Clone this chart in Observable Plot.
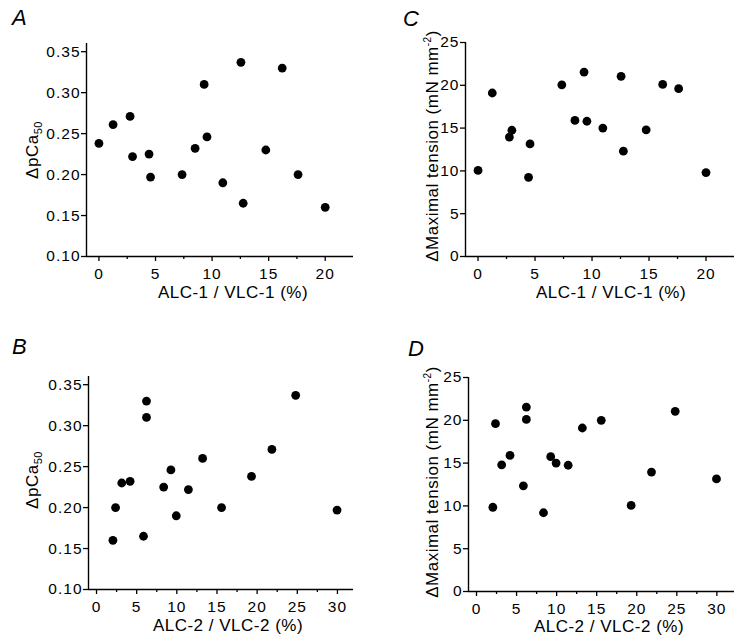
<!DOCTYPE html>
<html><head><meta charset="utf-8">
<script src="https://cdn.jsdelivr.net/npm/d3@7"></script>
<script src="https://cdn.jsdelivr.net/npm/@observablehq/plot@0.6"></script>
<style>
body{margin:0;background:#fff;}
#wrap{position:relative;width:742px;height:641px;overflow:hidden;background:#fff;font-family:"Liberation Sans",Arial,sans-serif;}
#wrap svg{position:absolute;}
</style></head><body><div id="wrap"></div>
<script>
// ---- data ----
const alc1 = [0, 1.25, 2.75, 2.97, 4.43, 4.56, 7.35, 8.5, 9.3, 9.55, 10.95, 12.55, 12.75, 14.75, 16.2, 17.6, 20.0];
const pCaA = [0.238, 0.261, 0.271, 0.222, 0.225, 0.197, 0.200, 0.232, 0.310, 0.246, 0.190, 0.337, 0.165, 0.230, 0.330, 0.200, 0.160];
const tensionC = [10.05, 19.1, 13.95, 14.75, 9.25, 13.15, 20.05, 15.9, 21.55, 15.8, 15.0, 21.05, 12.3, 14.8, 20.1, 19.6, 9.8];
const alc2 = [2.04, 2.37, 3.14, 4.18, 5.85, 6.22, 6.22, 8.36, 9.26, 9.93, 11.44, 13.21, 15.57, 19.3, 21.84, 24.8, 29.95];
const pCaB = [0.160, 0.200, 0.230, 0.232, 0.165, 0.330, 0.310, 0.225, 0.246, 0.190, 0.222, 0.260, 0.200, 0.238, 0.271, 0.337, 0.197];
const tensionD = [9.84, 19.6, 14.8, 15.9, 12.35, 21.55, 20.1, 9.2, 15.75, 15.0, 14.75, 19.1, 20.0, 10.05, 13.95, 21.05, 13.15];

const xTicks1 = [0, 5, 10, 15, 20];
const xMinor1 = [2.5, 7.5, 12.5, 17.5];
const xTicks2 = [0, 5, 10, 15, 20, 25, 30];
const xMinor2 = [2.5, 7.5, 12.5, 17.5, 22.5, 27.5];
const yTicksPCa = [0.10, 0.15, 0.20, 0.25, 0.30, 0.35];
const yTicksTension = [0, 5, 10, 15, 20, 25];

const xLabel1 = "ALC-1 / VLC-1 (%)";
const xLabel2 = "ALC-2 / VLC-2 (%)";
const panelLetters = ["A", "B", "C", "D"];

const wrap = document.getElementById("wrap");
const FONT = "'Liberation Sans', Arial, Helvetica, sans-serif";

function panel(cfg) {
  const data = cfg.x.map((v, i) => ({x: v, y: cfg.y[i]}));
  const svg = Plot.plot({
    width: cfg.width, height: cfg.height,
    marginLeft: cfg.ml, marginRight: cfg.mr, marginTop: cfg.mt, marginBottom: cfg.mb,
    x: {domain: cfg.xDomain},
    y: {domain: cfg.yDomain},
    style: {fontFamily: FONT, fontSize: "15.5px", letterSpacing: "1px", color: "#000", background: "transparent", overflow: "visible"},
    marks: [
      Plot.axisX(cfg.xTicks, {tickSize: 5, tickPadding: 6, label: null, tickFormat: d3.format("d"), strokeWidth: 1.3, fontSize: 15.5}),
      Plot.axisX(cfg.xMinor, {tickSize: 3, tickPadding: 0, label: null, tickFormat: () => "", strokeWidth: 1.3}),
      Plot.axisY(cfg.yTicks, {tickSize: 5, tickPadding: 1, label: null, tickFormat: cfg.yFormat, strokeWidth: 1.3, fontSize: 15.5}),
      Plot.ruleY([cfg.yDomain[0]], {stroke: "#000", strokeWidth: 1.4}),
      Plot.ruleX([cfg.xDomain[0]], {stroke: "#000", strokeWidth: 1.4}),
      Plot.dot(data, {x: "x", y: "y", r: 4.4, fill: "#000", stroke: "none"})
    ]
  });
  svg.style.left = cfg.left + "px";
  svg.style.top = cfg.top + "px";
  wrap.appendChild(svg);
}

// A
panel({x: alc1, y: pCaA, left: 0, top: 0, width: 371, height: 310, ml: 86, mr: 18, mt: 43, mb: 54,
  xDomain: [-1.1, 22.5], yDomain: [0.10, 0.36], xTicks: xTicks1, xMinor: xMinor1, yTicks: yTicksPCa, yFormat: d3.format(".2f")});
// C
panel({x: alc1, y: tensionC, left: 371, top: 0, width: 371, height: 310, ml: 94, mr: 8, mt: 42, mb: 54,
  xDomain: [-1.1, 22.5], yDomain: [0, 25], xTicks: xTicks1, xMinor: xMinor1, yTicks: yTicksTension, yFormat: d3.format("d")});
// B
panel({x: alc2, y: pCaB, left: 0, top: 320, width: 371, height: 321, ml: 88, mr: 18, mt: 56, mb: 52,
  xDomain: [-1, 32], yDomain: [0.10, 0.36], xTicks: xTicks2, xMinor: xMinor2, yTicks: yTicksPCa, yFormat: d3.format(".2f")});
// D
panel({x: alc2, y: tensionD, left: 371, top: 320, width: 371, height: 321, ml: 97, mr: 8, mt: 57, mb: 50,
  xDomain: [-1, 32.2], yDomain: [0, 25], xTicks: xTicks2, xMinor: xMinor2, yTicks: yTicksTension, yFormat: d3.format("d")});

// ---- overlay text: panel letters and axis titles ----
const ov = d3.select(wrap).append("svg")
  .attr("width", 742).attr("height", 641)
  .style("left", "0px").style("top", "0px")
  .style("font-family", FONT).style("fill", "#000");

const letterPos = [[12, 25], [12, 354], [403, 26], [408, 356]];
panelLetters.forEach((t, i) => {
  ov.append("text").attr("x", letterPos[i][0]).attr("y", letterPos[i][1])
    .style("font-size", "22px").style("font-style", "italic").text(t);
});

const xl = [[xLabel1, 233, 298], [xLabel1, 611, 298], [xLabel2, 228, 631], [xLabel2, 609, 632]];
xl.forEach(([t, x, y]) => {
  ov.append("text").attr("x", x).attr("y", y).attr("text-anchor", "middle")
    .style("font-size", "17px").style("letter-spacing", "0.5px").text(t);
});

function pcaLabel(x, y) {
  const t = ov.append("text").attr("transform", `translate(${x},${y}) rotate(-90)`)
    .attr("text-anchor", "middle").style("font-size", "17px").style("letter-spacing", "0.5px");
  t.append("tspan").text("\u0394pCa");
  t.append("tspan").attr("dy", 4).style("font-size", "11px").text("50");
}
function tensionLabel(x, y) {
  const t = ov.append("text").attr("transform", `translate(${x},${y}) rotate(-90)`)
    .attr("text-anchor", "middle").style("font-size", "17px").style("letter-spacing", "0.5px");
  t.append("tspan").text("\u0394Maximal tension (mN mm");
  t.append("tspan").attr("dy", -7).style("font-size", "10px").text("-2");
  t.append("tspan").attr("dy", 7).text(")");
}
pcaLabel(38, 150);
pcaLabel(38, 480);
tensionLabel(438, 146);
tensionLabel(438, 482);
</script>
</body></html>
